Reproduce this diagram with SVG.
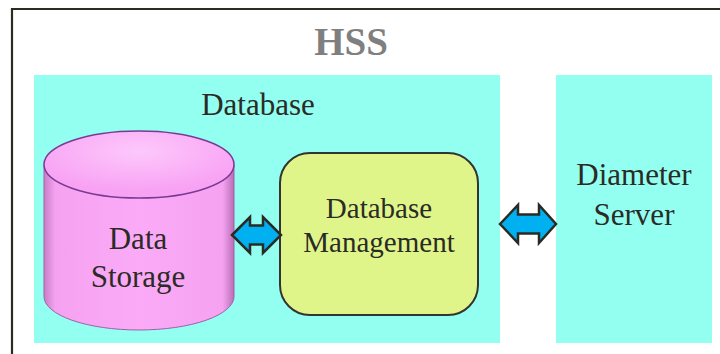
<svg xmlns="http://www.w3.org/2000/svg" width="720" height="354" viewBox="0 0 720 354">
  <style>
    .lbl { fill: #2b2b26; text-anchor: middle; }
    .panel { fill: #93fff0; }
    .dbl { fill: #00b0f0; stroke: #2b2b26; stroke-width: 2.5; stroke-linejoin: miter; }
  </style>
  <defs>
    <linearGradient id="cylBody" x1="0" y1="0" x2="1" y2="0">
      <stop offset="0" stop-color="#c97cc6"/>
      <stop offset="0.06" stop-color="#f5a3f1"/>
      <stop offset="0.5" stop-color="#fbaaf7"/>
      <stop offset="0.94" stop-color="#f5a3f1"/>
      <stop offset="1" stop-color="#b96db6"/>
    </linearGradient>
    <radialGradient id="cylTop" cx="0.5" cy="0.3" r="0.6">
      <stop offset="0" stop-color="#fdc8fb"/>
      <stop offset="1" stop-color="#f8a2f4"/>
    </radialGradient>
  </defs>

  <g font-family="Liberation Serif">
    <!-- HSS enclosure frame -->
    <g id="hss">
      <path d="M12 354 V9 H720" fill="none" stroke="#2b2b22" stroke-width="2.2"/>
      <text x="351" y="55" font-weight="bold" font-size="39" fill="#7f7f7f" text-anchor="middle">HSS</text>
    </g>

    <!-- Database panel -->
    <g id="database">
      <rect class="panel" x="34" y="75" width="466" height="268"/>
      <text class="lbl" x="258" y="115" font-size="31">Database</text>
    </g>

    <!-- Diameter server panel -->
    <g id="diameter-server">
      <rect class="panel" x="556" y="75" width="156" height="268"/>
      <text class="lbl" x="634" y="185" font-size="31">Diameter</text>
      <text class="lbl" x="634" y="225" font-size="31">Server</text>
    </g>

    <!-- Data storage cylinder -->
    <g id="data-storage">
      <path d="M44 164.5 V296.5 A95 33.5 0 0 0 234 296.5 V164.5 Z" fill="url(#cylBody)" stroke="#a060a8" stroke-width="1"/>
      <ellipse cx="139" cy="164.5" rx="95" ry="33.5" fill="url(#cylTop)" stroke="#7a3a92" stroke-width="1.5"/>
      <text class="lbl" x="138" y="249" font-size="31">Data</text>
      <text class="lbl" x="138" y="287" font-size="31">Storage</text>
    </g>

    <!-- Database management block -->
    <g id="database-management">
      <rect x="280" y="153" width="198" height="162" rx="30" ry="30" fill="#e0f589" stroke="#333330" stroke-width="2"/>
      <text class="lbl" x="379" y="218" font-size="29">Database</text>
      <text class="lbl" x="379" y="252" font-size="29">Management</text>
    </g>
  </g>

  <!-- Connectors: two-way block arrows -->
  <g id="connectors">
    <path class="dbl" d="M232 235 L250 217 V225.5 H263 V217 L281 235 L263 253 V244.5 H250 V253 Z"/>
    <path class="dbl" d="M500 224 L518 205 V214.5 H539 V205 L556 224 L539 243 V233.5 H518 V243 Z"/>
  </g>
</svg>
